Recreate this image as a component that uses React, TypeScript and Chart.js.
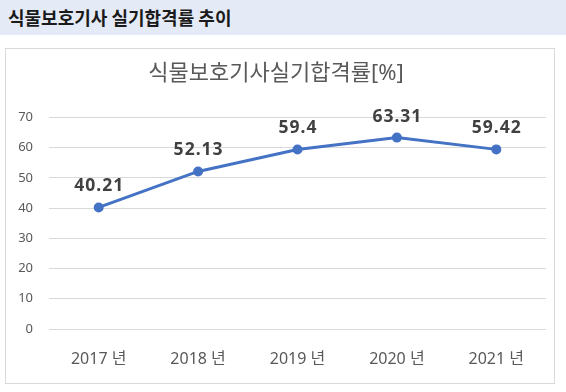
import React, { useEffect, useRef } from "react";
import { Chart, registerables } from "chart.js";

Chart.register(...registerables);

const pageTitle = "식물보호기사 실기합격률 추이";
const chartTitle = "식물보호기사실기합격률[%]";
const categories = ["2017 년", "2018 년", "2019 년", "2020 년", "2021 년"];
const passRates = [40.21, 52.13, 59.4, 63.31, 59.42];
const rateLabels = ["40.21", "52.13", "59.4", "63.31", "59.42"];
const yMin = 0;
const yMax = 70;
const yStep = 10;

const FONT = '"Noto Sans", "Noto Sans CJK KR", sans-serif';

const dataLabelPlugin = {
  id: "dataLabels",
  afterDatasetsDraw(chart: any) {
    const ctx = chart.ctx;
    const meta = chart.getDatasetMeta(0);
    ctx.save();
    ctx.font = `bold 17.5px ${FONT}`;
    try {
      (ctx as any).letterSpacing = "1px";
    } catch (e) {}
    ctx.fillStyle = "#404040";
    ctx.textAlign = "center";
    ctx.textBaseline = "middle";
    meta.data.forEach((pt: any, i: number) => {
      ctx.fillText(rateLabels[i], pt.x + 0.5, pt.y - 21);
    });
    ctx.restore();
  },
};

export default function App() {
  const ref = useRef<HTMLCanvasElement | null>(null);
  useEffect(() => {
    if (!ref.current) return;
    const chart = new Chart(ref.current, {
      type: "line",
      data: {
        labels: categories,
        datasets: [
          {
            data: passRates,
            borderColor: "#4472C4",
            backgroundColor: "#4472C4",
            borderWidth: 3,
            pointRadius: 3.5,
            pointBackgroundColor: "#4472C4",
            pointBorderColor: "#4472C4",
            tension: 0,
            fill: false,
          },
        ],
      },
      options: {
        animation: false,
        responsive: false,
        maintainAspectRatio: false,
        layout: { padding: { left: 0, right: 8, top: 0, bottom: 0 } },
        plugins: {
          legend: { display: false },
          tooltip: { enabled: false },
          title: {
            display: true,
            text: chartTitle,
            color: "#595959",
            font: { family: FONT, size: 22, weight: "normal" as any, lineHeight: 1.2 },
            padding: { top: 12, bottom: 30 },
          },
        },
        scales: {
          x: {
            offset: true,
            grid: { display: false, drawTicks: false },
            border: { display: false },
            ticks: {
              color: "#595959",
              font: { family: FONT, size: 16 },
              padding: 21,
              maxRotation: 0,
            },
            afterFit(scale: any) {
              scale.height = 54;
            },
          },
          y: {
            min: yMin,
            max: yMax,
            grid: { color: "#d9d9d9", lineWidth: 1, drawTicks: false },
            border: { display: false },
            ticks: {
              stepSize: yStep,
              color: "#595959",
              font: { family: FONT, size: 13 },
              padding: 16,
            },
            afterFit(scale: any) {
              scale.width = 43;
            },
          },
        },
      },
      plugins: [dataLabelPlugin],
    });
    return () => chart.destroy();
  }, []);

  return (
    <div style={{ position: "fixed", left: 0, top: 0, width: 566, height: 392, background: "#fff" }}>
      <div
        style={{
          position: "absolute",
          left: 0,
          top: 0,
          width: 566,
          height: 35,
          background: "#e5ebf6",
          display: "flex",
          alignItems: "center",
        }}
      >
        <span
          style={{
            marginLeft: 8,
            fontFamily: '"Noto Sans CJK KR", sans-serif',
            fontWeight: "bold",
            fontSize: 18,
            color: "#1a1a1a",
            lineHeight: "35px",
          }}
        >
          {pageTitle}
        </span>
      </div>
      <div
        style={{
          position: "absolute",
          left: 5,
          top: 48,
          width: 548,
          height: 334,
          border: "1px solid #d9d9d9",
          background: "#fff",
        }}
      >
        <canvas ref={ref} width={548} height={334} style={{ display: "block" }} />
      </div>
    </div>
  );
}
